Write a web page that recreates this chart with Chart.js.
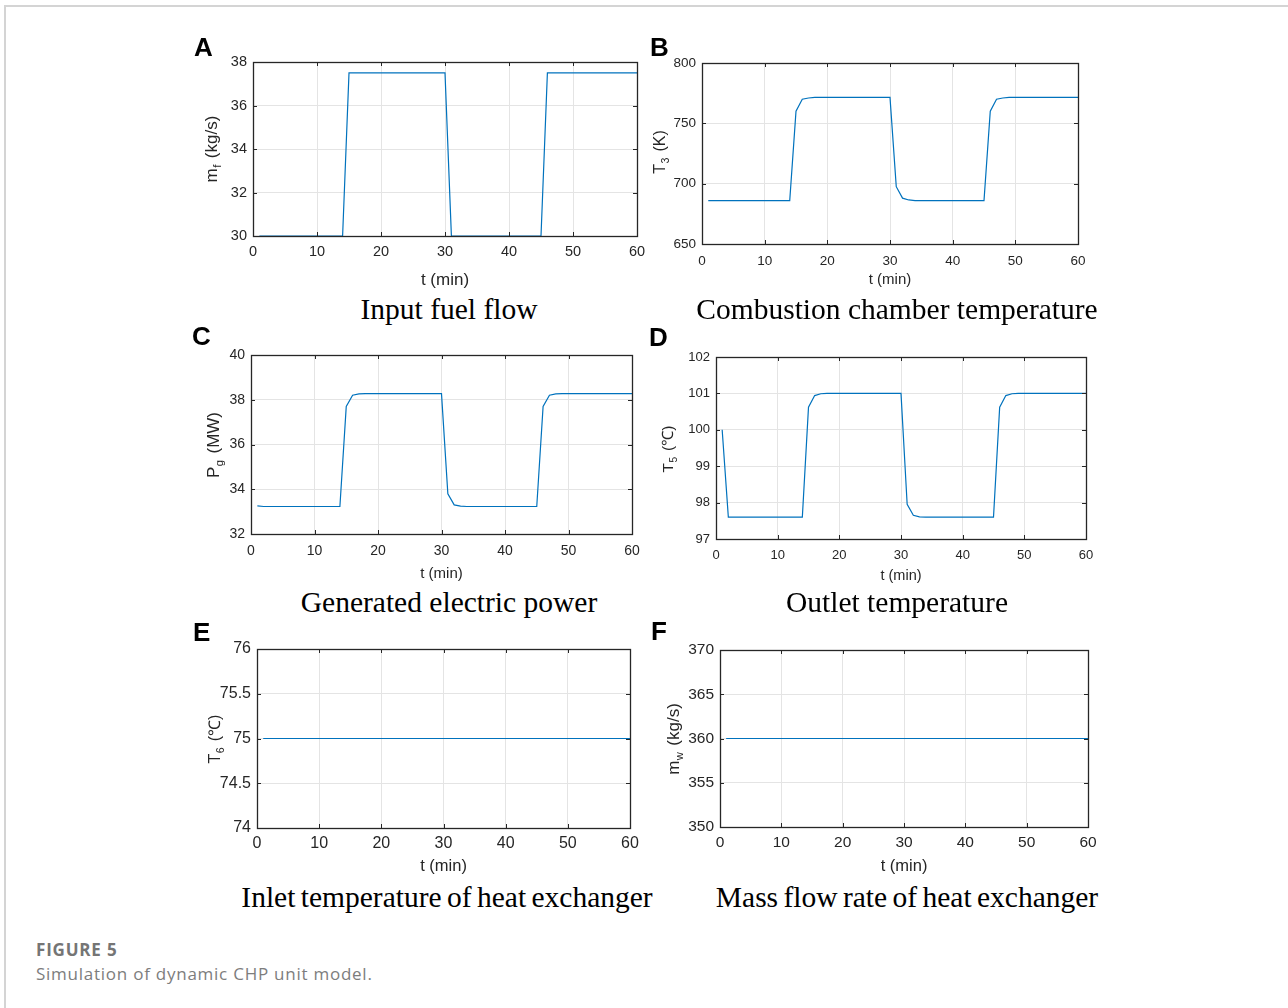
<!DOCTYPE html>
<html>
<head>
<meta charset="utf-8">
<script src="https://cdn.jsdelivr.net/npm/chart.js@4.4.1/dist/chart.umd.min.js"></script>
<style>
  html, body { margin: 0; padding: 0; background: #fff; }
  body { width: 1288px; height: 1008px; position: relative; overflow: hidden; font-family: "Liberation Sans", Arial, sans-serif; }
  #frame { position: absolute; left: 4px; top: 5px; right: 0; bottom: 0; border-top: 2px solid #d4d4d4; border-left: 2px solid #d4d4d4; }
  canvas { position: absolute; }
  .tag { position: absolute; font-weight: bold; font-size: 26px; line-height: 26px; color: #000; }
  .sub { position: absolute; font-family: "Liberation Serif", "Times New Roman", serif; font-size: 29.5px; line-height: 29.5px; color: #000; transform: translateX(-50%); white-space: nowrap; }
  .ytitle { position: absolute; color: #262626; white-space: nowrap; line-height: 1; transform: translate(-50%, -50%) rotate(-90deg); }
  .ytitle sub { font-size: 0.66em; vertical-align: -0.4em; line-height: 0; margin: 0 0.15em 0 0.05em; }
  .cap { position: absolute; left: 36px; font-family: "Open Sans", sans-serif; font-size: 17px; line-height: 17px; white-space: nowrap; }
  #cap1 { top: 941px; font-weight: bold; color: #757575; letter-spacing: 0.8px; }
  #cap2 { top: 965px; color: #7d7d7d; letter-spacing: 0.75px; }
</style>
</head>
<body>
<div id="frame"></div>
<div class="cap" id="cap1">FIGURE 5</div>
<div class="cap" id="cap2">Simulation of dynamic CHP unit model.</div>
<script>
// time axis (minutes), one sample per minute
const timeMin = [1,2,3,4,5,6,7,8,9,10,11,12,13,14,15,16,17,18,19,20,
  21,22,23,24,25,26,27,28,29,30,31,32,33,34,35,36,37,38,39,40,
  41,42,43,44,45,46,47,48,49,50,51,52,53,54,55,56,57,58,59,60];

// A: input fuel flow m_f (kg/s)
const fuelFlow = [30,30,30,30,30,30,30,30,30,30,30,30,30,30,
  37.5,37.5,37.5,37.5,37.5,37.5,37.5,37.5,37.5,37.5,37.5,37.5,37.5,37.5,37.5,37.5,
  30,30,30,30,30,30,30,30,30,30,30,30,30,30,30,
  37.5,37.5,37.5,37.5,37.5,37.5,37.5,37.5,37.5,37.5,37.5,37.5,37.5,37.5,37.5];

// B: combustion chamber temperature T_3 (K)
const chamberTemp = [686,686,686,686,686,686,686,686,686,686,686,686,686,686,
  760,770,771,771.5,771.5,771.5,771.5,771.5,771.5,771.5,771.5,771.5,771.5,771.5,771.5,771.5,
  697.5,688,686.5,686,686,686,686,686,686,686,686,686,686,686,686,
  760,770,771,771.5,771.5,771.5,771.5,771.5,771.5,771.5,771.5,771.5,771.5,771.5,771.5];

// C: generated electric power P_g (MW)
const elecPower = [33.26,33.23,33.23,33.23,33.23,33.23,33.23,33.23,33.23,33.23,33.23,33.23,33.23,33.23,
  37.7,38.2,38.26,38.27,38.27,38.27,38.27,38.27,38.27,38.27,38.27,38.27,38.27,38.27,38.27,38.27,
  33.8,33.3,33.25,33.23,33.23,33.23,33.23,33.23,33.23,33.23,33.23,33.23,33.23,33.23,33.23,
  37.7,38.2,38.26,38.27,38.27,38.27,38.27,38.27,38.27,38.27,38.27,38.27,38.27,38.27,38.27];

// D: outlet temperature T_5 (C)
const outletTemp = [100,97.6,97.6,97.6,97.6,97.6,97.6,97.6,97.6,97.6,97.6,97.6,97.6,97.6,
  100.62,100.94,100.99,101,101,101,101,101,101,101,101,101,101,101,101,101,
  97.95,97.65,97.61,97.6,97.6,97.6,97.6,97.6,97.6,97.6,97.6,97.6,97.6,97.6,97.6,
  100.62,100.94,100.99,101,101,101,101,101,101,101,101,101,101,101,101];

// E: inlet temperature of heat exchanger T_6 (C)
const inletTemp = [75,75,75,75,75,75,75,75,75,75,75,75,75,75,75,75,75,75,75,75,
  75,75,75,75,75,75,75,75,75,75,75,75,75,75,75,75,75,75,75,75,
  75,75,75,75,75,75,75,75,75,75,75,75,75,75,75,75,75,75,75,75];

// F: mass flow rate of heat exchanger m_w (kg/s)
const waterFlow = [360,360,360,360,360,360,360,360,360,360,360,360,360,360,360,360,360,360,360,360,
  360,360,360,360,360,360,360,360,360,360,360,360,360,360,360,360,360,360,360,360,
  360,360,360,360,360,360,360,360,360,360,360,360,360,360,360,360,360,360,360,360];

// tick labels
const xTicks = [0, 10, 20, 30, 40, 50, 60];
const yTicksA = [30, 32, 34, 36, 38];
const yTicksB = [650, 700, 750, 800];
const yTicksC = [32, 34, 36, 38, 40];
const yTicksD = [97, 98, 99, 100, 101, 102];
const yTicksE = [74, 74.5, 75, 75.5, 76];
const yTicksF = [350, 355, 360, 365, 370];

const panels = [
  { tag: "A", values: fuelFlow, yTicks: yTicksA, box: [253, 62, 637, 236], tickSize: 14.5, xtSize: 17, ytSize: 17, labelGap: 16, titleGap: 44,
    ytitle: "m<sub>f</sub> (kg/s)", yt: [211, 149], tagPos: [194, 34], subtitle: "Input fuel flow", subPos: [449, 295], ws: 0 },
  { tag: "B", values: chamberTemp, yTicks: yTicksB, box: [702, 63, 1078, 244], tickSize: 13.5, xtSize: 15, ytSize: 16, labelGap: 17, titleGap: 36,
    ytitle: "T<sub>3</sub> (K)", yt: [660, 152], tagPos: [650, 34], subtitle: "Combustion chamber temperature", subPos: [897, 295], ws: 0 },
  { tag: "C", values: elecPower, yTicks: yTicksC, box: [251, 355, 632, 534], tickSize: 14, xtSize: 15, ytSize: 17, labelGap: 17, titleGap: 40,
    ytitle: "P<sub>g</sub> (MW)", yt: [213, 445], tagPos: [192, 323], subtitle: "Generated electric power", subPos: [449, 588], ws: 0 },
  { tag: "D", values: outletTemp, yTicks: yTicksD, box: [716, 357, 1086, 539], tickSize: 13, xtSize: 14.5, ytSize: 15.5, labelGap: 16, titleGap: 37,
    ytitle: "T<sub>5</sub> (℃)", yt: [668, 449], tagPos: [649, 324], subtitle: "Outlet temperature", subPos: [897, 588], ws: 0 },
  { tag: "E", values: inletTemp, yTicks: yTicksE, box: [257, 649, 630, 828], tickSize: 16, xtSize: 16.5, ytSize: 16, labelGap: 16, titleGap: 38.5,
    ytitle: "T<sub>6</sub> (℃)", yt: [215, 739], tagPos: [193, 619], subtitle: "Inlet temperature of heat exchanger", subPos: [447, 883], ws: -2 },
  { tag: "F", values: waterFlow, yTicks: yTicksF, box: [720, 650, 1088, 827], tickSize: 15.5, xtSize: 16.5, ytSize: 17, labelGap: 16, titleGap: 39,
    ytitle: "m<sub>w</sub> (kg/s)", yt: [673, 739], tagPos: [651, 618], subtitle: "Mass flow rate of heat exchanger", subPos: [907, 883], ws: -2 }
];

const AXIS = "#262626";
const FONT = "'Liberation Sans', Arial, sans-serif";

// MATLAB-like box with inward tick marks on all four sides
const boxTicks = {
  id: "boxTicks",
  afterDraw(chart) {
    const { ctx, chartArea: a, scales } = chart;
    const tl = 4;
    ctx.save();
    ctx.strokeStyle = AXIS;
    ctx.lineWidth = 1;
    ctx.beginPath();
    scales.x.ticks.forEach(t => {
      const px = Math.round(scales.x.getPixelForValue(t.value)) + 0.5;
      ctx.moveTo(px, a.bottom); ctx.lineTo(px, a.bottom - tl);
      ctx.moveTo(px, a.top); ctx.lineTo(px, a.top + tl);
    });
    scales.y.ticks.forEach(t => {
      const py = Math.round(scales.y.getPixelForValue(t.value)) + 0.5;
      ctx.moveTo(a.left, py); ctx.lineTo(a.left + tl, py);
      ctx.moveTo(a.right, py); ctx.lineTo(a.right - tl, py);
    });
    ctx.stroke();
    ctx.lineWidth = 1.3;
    ctx.strokeRect(Math.round(a.left) + 0.5, Math.round(a.top) + 0.5,
      Math.round(a.right - a.left), Math.round(a.bottom - a.top));
    ctx.restore();
  }
};

const YW = 60, PT = 24, PR = 24;

panels.forEach(p => {
  const [L, T, R, B] = p.box;
  const xH = p.titleGap + p.xtSize * 0.6;
  const c = document.createElement("canvas");
  c.width = (R - L) + YW + PR;
  c.height = (B - T) + PT + Math.ceil(xH) + 2;
  c.style.left = (L - YW) + "px";
  c.style.top = (T - PT) + "px";
  document.body.appendChild(c);

  new Chart(c.getContext("2d"), {
    type: "line",
    data: {
      datasets: [{
        data: timeMin.map((t, i) => ({ x: t, y: p.values[i] })),
        borderColor: "#0072BD",
        borderWidth: 1.2,
        pointRadius: 0,
        tension: 0,
        fill: false
      }]
    },
    options: {
      responsive: false,
      animation: false,
      events: [],
      layout: { padding: { left: 0, top: PT, right: PR, bottom: c.height - (B - T) - PT - xH } },
      plugins: { legend: { display: false }, tooltip: { enabled: false } },
      scales: {
        x: {
          type: "linear",
          min: xTicks[0],
          max: xTicks[xTicks.length - 1],
          afterBuildTicks: s => { s.ticks = xTicks.map(v => ({ value: v })); },
          afterFit: s => { s.height = xH; },
          grid: { color: "#e4e4e4", drawTicks: false },
          border: { display: false },
          ticks: {
            color: AXIS,
            font: { family: FONT, size: p.tickSize },
            padding: p.labelGap - p.tickSize * 0.6,
            maxRotation: 0,
            autoSkip: false,
            callback: v => String(v)
          },
          title: {
            display: true,
            text: "t (min)",
            color: AXIS,
            font: { family: FONT, size: p.xtSize },
            padding: 0
          }
        },
        y: {
          type: "linear",
          min: p.yTicks[0],
          max: p.yTicks[p.yTicks.length - 1],
          afterBuildTicks: s => { s.ticks = p.yTicks.map(v => ({ value: v })); },
          afterFit: s => { s.width = YW; },
          grid: { color: "#e4e4e4", drawTicks: false },
          border: { display: false },
          ticks: {
            color: AXIS,
            font: { family: FONT, size: p.tickSize },
            padding: 6,
            autoSkip: false,
            callback: v => String(v)
          }
        }
      }
    },
    plugins: [boxTicks]
  });

  const yt = document.createElement("div");
  yt.className = "ytitle";
  yt.style.left = p.yt[0] + "px";
  yt.style.top = p.yt[1] + "px";
  yt.style.fontSize = p.ytSize + "px";
  yt.innerHTML = p.ytitle;
  document.body.appendChild(yt);

  const tag = document.createElement("div");
  tag.className = "tag";
  tag.style.left = p.tagPos[0] + "px";
  tag.style.top = p.tagPos[1] + "px";
  tag.textContent = p.tag;
  document.body.appendChild(tag);

  const sub = document.createElement("div");
  sub.className = "sub";
  sub.style.left = p.subPos[0] + "px";
  sub.style.top = p.subPos[1] + "px";
  sub.style.wordSpacing = p.ws + "px";
  sub.textContent = p.subtitle;
  document.body.appendChild(sub);
});
</script>
</body>
</html>
